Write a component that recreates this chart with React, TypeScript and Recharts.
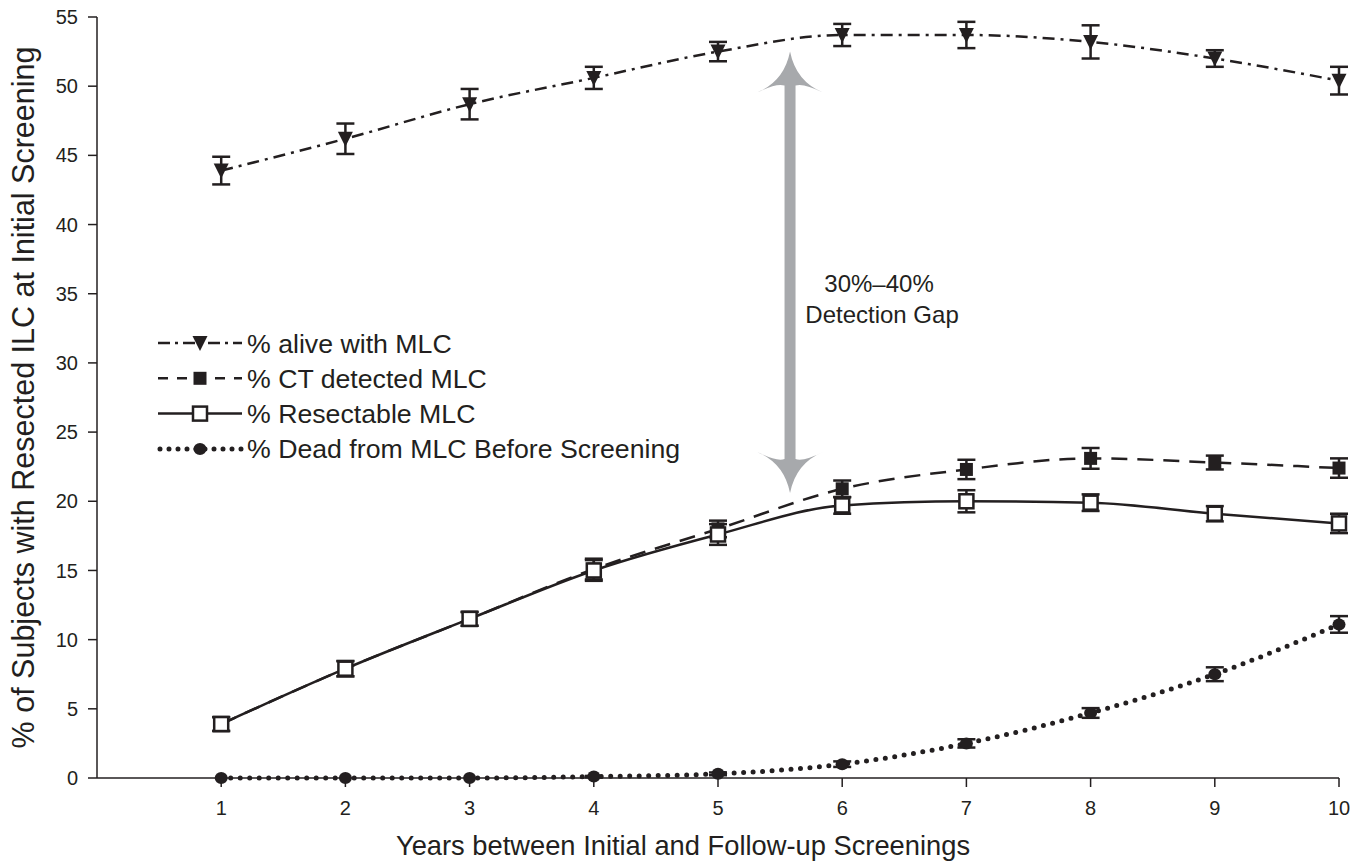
import React from "react";
import {
  LineChart,
  Line,
  XAxis,
  YAxis,
  ErrorBar,
  Legend,
  ReferenceLine,
  Label,
} from "recharts";

const years = [1, 2, 3, 4, 5, 6, 7, 8, 9, 10];
const alive = [43.9, 46.2, 48.7, 50.6, 52.5, 53.7, 53.7, 53.2, 52.0, 50.4];
const aliveErr = [1.0, 1.1, 1.1, 0.8, 0.7, 0.8, 0.95, 1.2, 0.6, 1.0];
const ctDetected = [3.9, 7.9, 11.5, 15.1, 18.0, 20.9, 22.3, 23.1, 22.8, 22.4];
const ctErr = [0.5, 0.55, 0.5, 0.75, 0.6, 0.6, 0.7, 0.75, 0.5, 0.7];
const resectable = [3.9, 7.9, 11.5, 15.0, 17.6, 19.7, 20.0, 19.9, 19.1, 18.4];
const resectErr = [0.5, 0.55, 0.5, 0.75, 0.75, 0.6, 0.8, 0.6, 0.55, 0.7];
const dead = [0, 0, 0, 0.1, 0.3, 1.0, 2.5, 4.7, 7.5, 11.1];
const deadErr = [0, 0, 0, 0.05, 0.1, 0.2, 0.3, 0.35, 0.5, 0.6];
const yTicks = [0, 5, 10, 15, 20, 25, 30, 35, 40, 45, 50, 55];

const gapX = 5.58;
const gapTop = 52.5;
const gapBottom = 20.6;

const data = years.map((year, i) => ({
  year,
  alive: alive[i],
  aliveErr: aliveErr[i],
  ct: ctDetected[i],
  ctErr: ctErr[i],
  resect: resectable[i],
  resectErr: resectErr[i],
  dead: dead[i],
  deadErr: deadErr[i],
}));

const FONT = '"Liberation Sans", Arial, Helvetica, sans-serif';
const INK = "#231f20";
const GRAY = "#a7a9ac";

const triangle = (cx: number, cy: number, key?: string) => (
  <polygon
    key={key}
    points={`${cx - 7.5},${cy - 7} ${cx + 7.5},${cy - 7} ${cx},${cy + 8}`}
    fill={INK}
  />
);
const filledSquare = (cx: number, cy: number, key?: string) => (
  <rect key={key} x={cx - 6.5} y={cy - 6.5} width={13} height={13} fill={INK} />
);
const openSquare = (cx: number, cy: number, key?: string) => (
  <rect
    key={key}
    x={cx - 7}
    y={cy - 7}
    width={14}
    height={14}
    fill="#fff"
    stroke={INK}
    strokeWidth={2.5}
  />
);
const circle = (cx: number, cy: number, key?: string) => (
  <ellipse key={key} cx={cx} cy={cy} rx={6.5} ry={6} fill={INK} />
);

const makeDot = (draw: typeof triangle, name: string) => (props: any) => {
  const { cx, cy, index } = props;
  if (cx == null || cy == null) return <g key={`${name}-${index}`} />;
  return draw(cx, cy, `${name}-${index}`);
};

const legendRows = [
  { label: "% alive with MLC", dash: "12 5 3 5", draw: triangle },
  { label: "% CT detected MLC", dash: "10 9", draw: filledSquare },
  { label: "% Resectable MLC", dash: undefined, draw: openSquare },
  { label: "% Dead from MLC Before Screening", dash: "0 9", draw: circle },
];

function LegendBox() {
  return (
    <svg width={600} height={145} style={{ display: "block" }}>
      {legendRows.map((row, i) => {
        const y = 18 + i * 35.3;
        const dotted = row.dash === "0 9";
        return (
          <g key={row.label}>
            <line
              x1={dotted ? 10 : 8}
              x2={92}
              y1={y}
              y2={y}
              stroke={INK}
              strokeWidth={dotted ? 5 : 2.5}
              strokeDasharray={row.dash}
              strokeLinecap={dotted ? "round" : "butt"}
            />
            {row.draw(50, y)}
            <text
              x={97}
              y={y + 9.5}
              fontSize={26.7}
              fontFamily={FONT}
              fill={INK}
            >
              {row.label}
            </text>
          </g>
        );
      })}
    </svg>
  );
}

const GapArrow = (props: any) => {
  const { x1, y1, y2 } = props;
  const x = x1;
  const t = Math.min(y1, y2);
  const b = Math.max(y1, y2);
  const head = (tip: number, s: number) =>
    `M ${x} ${tip} Q ${x + 6} ${tip + s * 30} ${x + 33} ${tip + s * 41} Q ${x + 13} ${tip + s * 31} ${x + 5.5} ${tip + s * 34} L ${x - 5.5} ${tip + s * 34} Q ${x - 13} ${tip + s * 31} ${x - 33} ${tip + s * 41} Q ${x - 6} ${tip + s * 30} ${x} ${tip} Z`;
  return (
    <g>
      <rect x={x - 5.5} y={t + 30} width={11} height={b - t - 60} fill={GRAY} />
      <path d={head(t, 1)} fill={GRAY} />
      <path d={head(b, -1)} fill={GRAY} />
      <text
        x={x + 89}
        y={t + 240}
        textAnchor="middle"
        fontSize={24}
        fontFamily={FONT}
        fill={INK}
      >
        30%–40%
      </text>
      <text
        x={x + 92}
        y={t + 271}
        textAnchor="middle"
        fontSize={24}
        fontFamily={FONT}
        fill={INK}
      >
        Detection Gap
      </text>
    </g>
  );
};

const tickStyle = { fontSize: 20, fill: INK, fontFamily: FONT };

export default function App() {
  return (
    <div style={{ position: "absolute", left: 0, top: 0, background: "#fff" }}>
      <LineChart
        width={1369}
        height={861}
        data={data}
        margin={{ top: 17, right: 30, bottom: 0, left: 0 }}
      >
        <XAxis
          dataKey="year"
          type="number"
          domain={[0, 10]}
          ticks={years}
          tickSize={9}
          tickMargin={14}
          tick={tickStyle}
          stroke={INK}
          strokeWidth={1.5}
          height={83}
        >
          <Label
            value="Years between Initial and Follow-up Screenings"
            position="insideBottom"
            offset={6}
            dx={-35}
            style={{ fontSize: 27.3, fill: INK, fontFamily: FONT }}
          />
        </XAxis>
        <YAxis
          domain={[0, 55]}
          ticks={yTicks}
          tickSize={9}
          tickMargin={10}
          tick={tickStyle}
          stroke={INK}
          strokeWidth={1.5}
          width={97}
        >
          <Label
            value="% of Subjects with Resected ILC at Initial Screening"
            angle={-90}
            position="insideLeft"
            offset={23}
            style={{ fontSize: 30.5, fill: INK, fontFamily: FONT, textAnchor: "middle" }}
          />
        </YAxis>

        <ReferenceLine
          segment={[
            { x: gapX, y: gapTop },
            { x: gapX, y: gapBottom },
          ]}
          ifOverflow="visible"
          shape={GapArrow}
        />

        <Line
          dataKey="dead"
          type="monotone"
          stroke={INK}
          strokeWidth={5}
          strokeDasharray="0 9.5"
          strokeLinecap="round"
          dot={makeDot(circle, "dead")}
          activeDot={false}
          isAnimationActive={false}
        >
          <ErrorBar dataKey="deadErr" direction="y" width={9} stroke={INK} strokeWidth={2.5} />
        </Line>
        <Line
          dataKey="ct"
          type="monotone"
          stroke={INK}
          strokeWidth={2.5}
          strokeDasharray="16 10"
          dot={makeDot(filledSquare, "ct")}
          activeDot={false}
          isAnimationActive={false}
        >
          <ErrorBar dataKey="ctErr" direction="y" width={9} stroke={INK} strokeWidth={2.5} />
        </Line>
        <Line
          dataKey="resect"
          type="monotone"
          stroke={INK}
          strokeWidth={2.5}
          dot={makeDot(openSquare, "resect")}
          activeDot={false}
          isAnimationActive={false}
        >
          <ErrorBar dataKey="resectErr" direction="y" width={9} stroke={INK} strokeWidth={2.5} />
        </Line>
        <Line
          dataKey="alive"
          type="monotone"
          stroke={INK}
          strokeWidth={2.5}
          strokeDasharray="12 6 3 6"
          dot={makeDot(triangle, "alive")}
          activeDot={false}
          isAnimationActive={false}
        >
          <ErrorBar dataKey="aliveErr" direction="y" width={9} stroke={INK} strokeWidth={2.5} />
        </Line>

        <Legend
          layout="horizontal"
          verticalAlign="middle"
          align="center"
          content={() => <LegendBox />}
          wrapperStyle={{ left: 150, top: 325, width: 600, height: 145 }}
        />
      </LineChart>
    </div>
  );
}
